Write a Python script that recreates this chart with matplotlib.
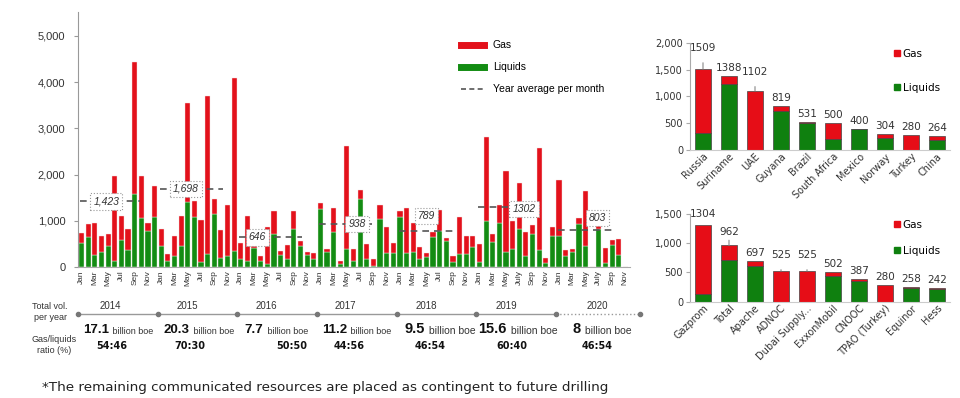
import numpy as np
import matplotlib.pyplot as plt
import matplotlib.transforms as mtransforms
from matplotlib.lines import Line2D
from matplotlib.ticker import FuncFormatter

# monthly discovered volumes (million boe), Jan 2014 .. Nov 2020
liquids = [530, 660, 270, 340, 450, 140, 580, 370, 1580, 1060, 780, 1090,
           450, 140, 250, 460, 1400, 1080, 110, 290, 1150, 200, 240, 350,
           170, 140, 420, 140, 70, 710, 260, 190, 820, 470, 270, 170,
           1250, 320, 770, 70, 400, 140, 1470, 190, 30, 1040, 300, 300,
           1090, 300, 340, 190, 230, 660, 780, 570, 120, 290, 290, 430,
           120, 1000, 550, 950, 340, 390, 820, 240, 710, 370, 90, 680,
           670, 250, 340, 940, 450, 0, 820, 100, 480, 270, 0]
gas = [220, 270, 680, 340, 270, 1830, 520, 450, 2850, 910, 180, 660,
       370, 150, 430, 650, 2140, 350, 910, 3410, 320, 610, 1100, 3740,
       360, 970, 110, 110, 810, 500, 90, 290, 400, 90, 50, 140,
       130, 70, 520, 70, 2220, 260, 200, 310, 140, 310, 580, 220,
       130, 970, 620, 240, 70, 110, 460, 70, 120, 800, 390, 250,
       390, 1820, 170, 400, 1730, 620, 990, 530, 200, 2200, 110, 200,
       1220, 120, 50, 120, 1200, 0, 90, 320, 110, 340, 0]

years = ['2014', '2015', '2016', '2017', '2018', '2019', '2020']
year_avg = [1423, 1698, 646, 938, 789, 1302, 803]
year_avg_txt = ['1,423', '1,698', '646', '938', '789', '1302', '803']
year_total = ['17.1', '20.3', '7.7', '11.2', '9.5', '15.6', '8']
year_ratio = ['54:46', '70:30', '50:50', '44:56', '46:54', '60:40', '46:54']

countries = ['Russia', 'Suriname', 'UAE', 'Guyana', 'Brazil', 'South Africa',
             'Mexico', 'Norway', 'Turkey', 'China']
country_liq = [320, 1230, 0, 730, 495, 200, 400, 230, 0, 190]
country_gas = [1189, 158, 1102, 89, 36, 300, 0, 74, 280, 74]

companies = ['Gazprom', 'Total', 'Apache', 'ADNOC', 'Dubai Supply...',
             'ExxonMobil', 'CNOOC', 'TPAO (Turkey)', 'Equinor', 'Hess']
company_liq = [130, 720, 610, 0, 0, 440, 360, 0, 235, 215]
company_gas = [1174, 242, 87, 525, 525, 62, 27, 280, 23, 27]

RED = '#e3111b'
GREEN = '#138c13'
RED2 = '#e60d17'
GREEN2 = '#0f800f'
GREY = '#333333'

W, H = 960, 398
fig = plt.figure(figsize=(9.6, 3.98), dpi=100)


def fx(px):
    return px / W


def fy(py):
    return 1 - py / H


# ---------------- main monthly chart ----------------
ax = fig.add_axes([fx(78), fy(267.3), fx(552), (267.3 - 12) / H])
x = np.arange(len(liquids))
ax.bar(x, liquids, width=0.78, color=GREEN, edgecolor='#e8f5e0', lw=0.3, zorder=2)
ax.bar(x, gas, bottom=liquids, width=0.78, color=RED, edgecolor='#f5e0e0', lw=0.3, zorder=2)
ax.set_xlim(-0.55, 82.7)
ax.set_ylim(0, 5514)
ax.set_yticks(range(0, 5001, 1000))
ax.yaxis.set_major_formatter(FuncFormatter(lambda v, p: '{:,.0f}'.format(v)))
for s in ['top', 'right']:
    ax.spines[s].set_visible(False)
ax.spines['left'].set_color('#999999')
ax.spines['bottom'].set_color('#aaaaaa')
ax.tick_params(axis='y', length=3, color='#999999', labelsize=8, labelcolor=GREY, pad=6)
ax.tick_params(axis='x', length=0, labelsize=6, labelcolor=GREY, pad=2)
for lab in ax.get_yticklabels():
    lab.set_family('Liberation Sans')

month_names = ['Jan', 'Mar', 'May', 'Jul', 'Sep', 'Nov']
tick_pos = list(range(0, len(liquids), 2))
tick_lab = []
for p in tick_pos:
    name = month_names[(p % 12) // 2]
    if name == 'Jul' and p >= 60:
        name = 'July'
    tick_lab.append(name)
ax.set_xticks(tick_pos)
ax.set_xticklabels(tick_lab, rotation=90, family='Liberation Sans')

# year average lines with boxed labels
avg_span_end = [8.8, 21.3, 33.3, 43.8, 56.6, 68, 80.3]
avg_lab_x = [3.7, 15.7, 26.5, 41.5, 52, 66.7, 77.8]
avg_lab_dy = [0, 0, 0, 0, 320, -50, 255]
for k, v in enumerate(year_avg):
    x0 = 12 * k - 0.2 if k < 6 else 71.8
    ax.plot([x0, avg_span_end[k]], [v, v], color='#555555', lw=1.2,
            ls=(0, (4, 3)), zorder=3)
    ax.text(avg_lab_x[k], v + avg_lab_dy[k], year_avg_txt[k], ha='center', va='center',
            fontsize=7.5, style='italic', color=GREY, family='Liberation Sans', zorder=4,
            bbox=dict(boxstyle='square,pad=0.3', fc='white', ec='#999999', ls=':', lw=0.8))

handles = [Line2D([], [], color=RED, lw=5),
           Line2D([], [], color=GREEN, lw=5),
           Line2D([], [], color='#555555', lw=1.2, ls=(0, (3, 2)))]
ax.legend(handles, ['Gas', 'Liquids', 'Year average per month'], loc='upper left',
          bbox_to_anchor=(fx(452), fy(31)), bbox_transform=fig.transFigure,
          frameon=False, handlelength=2.2, labelspacing=1.15, handletextpad=0.8,
          prop={'family': 'Liberation Sans', 'size': 7.5})

# timeline under the monthly chart
tr = mtransforms.blended_transform_factory(ax.transData, fig.transFigure)
dots = [12 * k - 0.5 for k in range(7)]
ax.plot([dots[0], dots[-1]], [fy(314)] * 2, color='#999999', lw=1, transform=tr, clip_on=False)
ax.plot([dots[-1], 84.2], [fy(314)] * 2, color='#999999', lw=1, ls=':', transform=tr, clip_on=False)
ax.plot(dots + [84.2], [fy(314)] * 8, 'o', ms=3, color='#777777', transform=tr, clip_on=False)

fig.text(fx(50), fy(312), 'Total vol.\nper year', ha='center', va='center', fontsize=6.5,
         color=GREY, family='Liberation Sans', linespacing=1.2)
fig.text(fx(54), fy(345), 'Gas/liquids\nratio (%)', ha='center', va='center', fontsize=6.5,
         color=GREY, family='Liberation Sans', linespacing=1.2)

year_lab_x = [4.3, 15.9, 27.8, 39.7, 52, 64, 77.7]
boe_start = [0.2, 12.3, 24.6, 36.2, 48.7, 59.8, 74.1]
ratio_x = [4.6, 16.3, 31.7, 40.4, 52.5, 64.9, 77.7]
for k in range(7):
    ax.text(year_lab_x[k], fy(306), years[k], transform=tr, ha='center', va='center',
            fontsize=7, color=GREY, family='Liberation Sans', clip_on=False)
    big = 9.5 if k < 4 else 10.5
    small = 6.5 if k < 4 else 7.5
    t1 = ax.text(boe_start[k], fy(333), year_total[k], transform=tr, ha='left', va='baseline',
                 fontsize=big, fontweight='bold', color='#111111', family='Liberation Sans')
    ax.annotate(' billion boe', xy=(1, 0), xycoords=t1, xytext=(1, 0), textcoords='offset points',
                ha='left', va='bottom', fontsize=small, color=GREY, family='Liberation Sans')
    ax.text(ratio_x[k], fy(346), year_ratio[k], transform=tr, ha='center', va='center',
            fontsize=7, fontweight='bold', color='#111111', family='DejaVu Sans')

fig.text(fx(42), fy(388), '*The remaining communicated resources are placed as contingent to future drilling',
         ha='left', va='center', fontsize=9.7, color='#222222', family='DejaVu Sans')


# ---------------- right side: top 10 charts ----------------
def top10(axr, names, liq, gs, ymax, step, lifts, lined, spacing):
    xi = np.arange(len(names))
    axr.bar(xi, liq, width=0.64, color=GREEN2, edgecolor='#444444', lw=0.5, zorder=2)
    axr.bar(xi, gs, bottom=liq, width=0.64, color=RED2, edgecolor='#444444', lw=0.5, zorder=2)
    axr.set_xlim(-0.5, 9.5)
    axr.set_ylim(0, ymax)
    axr.set_yticks(np.arange(0, ymax + 1, step))
    axr.yaxis.set_major_formatter(FuncFormatter(lambda v, p: '{:,.0f}'.format(v)))
    for s in ['top', 'right']:
        axr.spines[s].set_visible(False)
    axr.spines['left'].set_color('#aaaaaa')
    axr.spines['bottom'].set_color('#cccccc')
    axr.tick_params(axis='y', length=3, color='#aaaaaa', labelsize=7, labelcolor=GREY, pad=2)
    axr.tick_params(axis='x', length=0, labelsize=7, labelcolor=GREY, pad=1)
    axr.set_xticks(xi)
    axr.set_xticklabels(names, rotation=45, ha='right', rotation_mode='anchor')
    for i in xi:
        tot = liq[i] + gs[i]
        lift = lifts.get(names[i], 8)
        arrow = dict(arrowstyle='-', color='#888888', lw=0.8, shrinkA=5, shrinkB=0) \
            if names[i] in lined else None
        axr.annotate(str(tot), xy=(i, tot), xytext=(0, lift * 0.72), textcoords='offset points',
                     ha='center', va='center', fontsize=7.5, color=GREY, arrowprops=arrow,
                     annotation_clip=False)
    h = [Line2D([], [], marker='s', ls='', color=RED2, ms=5),
         Line2D([], [], marker='s', ls='', color=GREEN2, ms=5)]
    axr.legend(h, ['Gas', 'Liquids'], loc='upper left', bbox_to_anchor=(0.77, 0.98),
               frameon=False, fontsize=7.5, handlelength=0.6, handletextpad=0.2,
               labelspacing=spacing, borderaxespad=0)


ax_t = fig.add_axes([fx(690), fy(150), fx(260), 107.3 / H])
top10(ax_t, countries, country_liq, country_gas, 2000, 500,
      {'Russia': 21, 'UAE': 19}, ['Russia', 'UAE'], 2.3)

ax_b = fig.add_axes([fx(690), fy(301.7), fx(260), 87.7 / H])
top10(ax_b, companies, company_liq, company_gas, 1500, 500,
      {'Gazprom': 11.5, 'Total': 13, 'ADNOC': 16, 'Dubai Supply...': 16},
      ['Total', 'ADNOC', 'Dubai Supply...'], 1.5)

plt.savefig('out.png', dpi=100, facecolor='white')
